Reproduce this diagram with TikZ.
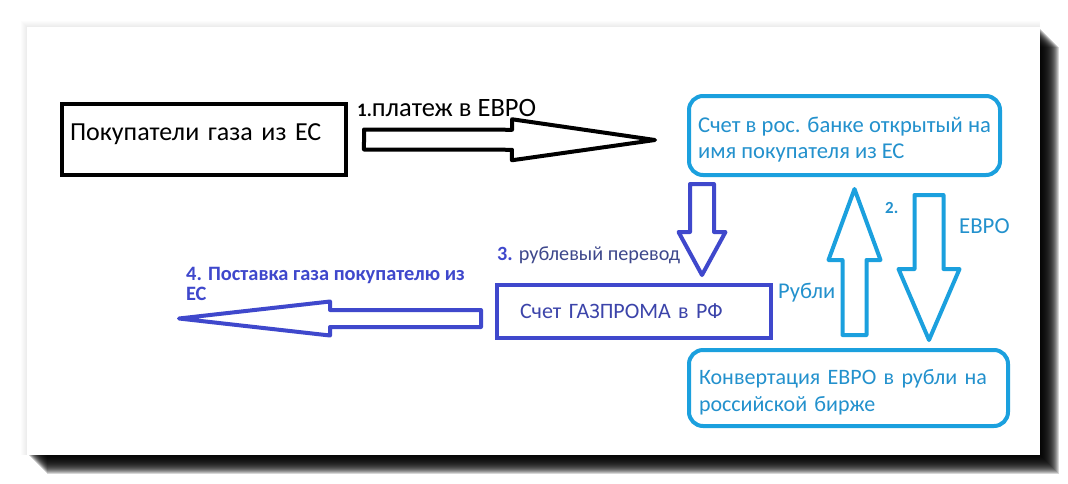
\documentclass[tikz,border=0pt]{standalone}
\usepackage{fontspec}
\setmainfont{Carlito}
\usetikzlibrary{calc}
\definecolor{skyline}{RGB}{27,160,222}
\definecolor{skytext}{RGB}{35,145,205}
\definecolor{indigo}{RGB}{63,72,204}
\definecolor{indigotext}{RGB}{60,68,170}
\definecolor{slatetext}{RGB}{62,72,140}
\newcommand{\blockarrow}[6][]{%
  \coordinate (hb) at ($(#3)!#6!(#2)$);
  \draw[#1] ($(#2)!#4!90:(#3)$) -- ($(hb)!#4!90:(#3)$) -- ($(hb)!#5!90:(#3)$) -- (#3)
    -- ($(hb)!#5!-90:(#3)$) -- ($(hb)!#4!-90:(#3)$) -- ($(#2)!#4!-90:(#3)$) -- cycle;
}

\begin{document}
\begin{tikzpicture}[x=1pt,y=-1pt]
    \tikzstyle{box}=[draw, line width=4pt, inner sep=0pt, font=\fontsize{22}{26}\selectfont]
    \tikzstyle{sky}=[box, draw=skyline, text=skytext, rounded corners=14pt]
    \tikzstyle{note}=[inner sep=0pt, anchor=base west]
    \tikzstyle{fat}=[line width=4pt, line join=round, fill=white]
    \useasboundingbox (0,0) rectangle (1068,483);
    \fill[white] (0,0) rectangle (1068,483);
    \foreach \i in {1,...,6}
      \fill[black, opacity=0.012] (27-\i,27-\i) rectangle (1040,455);
    \foreach \i in {1,...,19}
      \fill[black, opacity=0.16] (28+\i,28+\i) rectangle (1040+\i,455+\i);
    \fill[white] (27,27) rectangle (1040,455);

    \node (buyers) [box, text width=268pt, inner xsep=8pt, minimum height=71pt,
      text height=17pt, text depth=16pt, font=\fontsize{26}{30}\selectfont]
      at (204,139.5) {Покупатели газа из ЕС};
    \node (account) [sky, minimum width=311pt, minimum height=79pt, align=left,
      text height=49pt, font=\fontsize{22.6}{26}\selectfont]
      at (844.5,135.5) {Счет в рос. банке открытый на\\имя покупателя из ЕС};
    \node (gazprom) [box, draw=indigo, text=indigotext, text width=228pt, inner xsep=23pt,
      minimum height=53pt, text height=15pt, text depth=2pt]
      at (634,311.5) {Счет ГАЗПРОМА в РФ};
    \node (exchange) [sky, text width=299pt, inner xsep=10pt, minimum height=76pt, align=left,
      text height=24pt, font=\fontsize{22}{27}\selectfont]
      at (848.5,388) {Конвертация ЕВРО в рубли на\\российской бирже};

    \coordinate (pay0) at (364,139.5);
    \coordinate (pay1) at (655,140);
    \coordinate (rub0) at (702,184);
    \coordinate (rub1) at (702,275);
    \coordinate (up0) at (854.5,335);
    \coordinate (up1) at (854.5,189);
    \coordinate (down0) at (929,195);
    \coordinate (down1) at (929,340);
    \coordinate (gas0) at (481,318.5);
    \coordinate (gas1) at (179,318.5);
    \blockarrow[fat]{pay0}{pay1}{10pt}{20.5pt}{143pt}
    \blockarrow[fat, draw=indigo]{rub0}{rub1}{12pt}{23.5pt}{43pt}
    \blockarrow[fat, draw=skyline]{up0}{up1}{12pt}{26pt}{71pt}
    \blockarrow[fat, draw=skyline]{down0}{down1}{14.5pt}{30.5pt}{71pt}
    \blockarrow[fat, draw=indigo]{gas0}{gas1}{8.5pt}{17pt}{151pt}

    \node (step1) [note] at (357,116)
      {{\fontsize{19}{22}\selectfont\bfseries 1.}\fontsize{26.5}{30}\selectfont платеж в ЕВРО};
    \node (step2) [note, text=skytext, font=\fontsize{17}{20}\selectfont\bfseries] at (885,213) {2.};
    \node (euro) [note, text=skytext, font=\fontsize{22.8}{26}\selectfont] at (959,233) {ЕВРО};
    \node (rubles) [note, text=skytext, font=\fontsize{22.5}{26}\selectfont] at (778,298) {Рубли};
    \node (step3) [note, text=slatetext, font=\fontsize{20.2}{24}\selectfont] at (497,260)
      {\textcolor{indigo}{\bfseries 3.} рублевый перевод};
    \node (step4) [note, anchor=north west, align=left, text=indigo,
      font=\fontsize{20.4}{20}\selectfont\bfseries] at (186,267)
      {4. Поставка газа покупателю из\\ЕС};
\end{tikzpicture}
\end{document}
